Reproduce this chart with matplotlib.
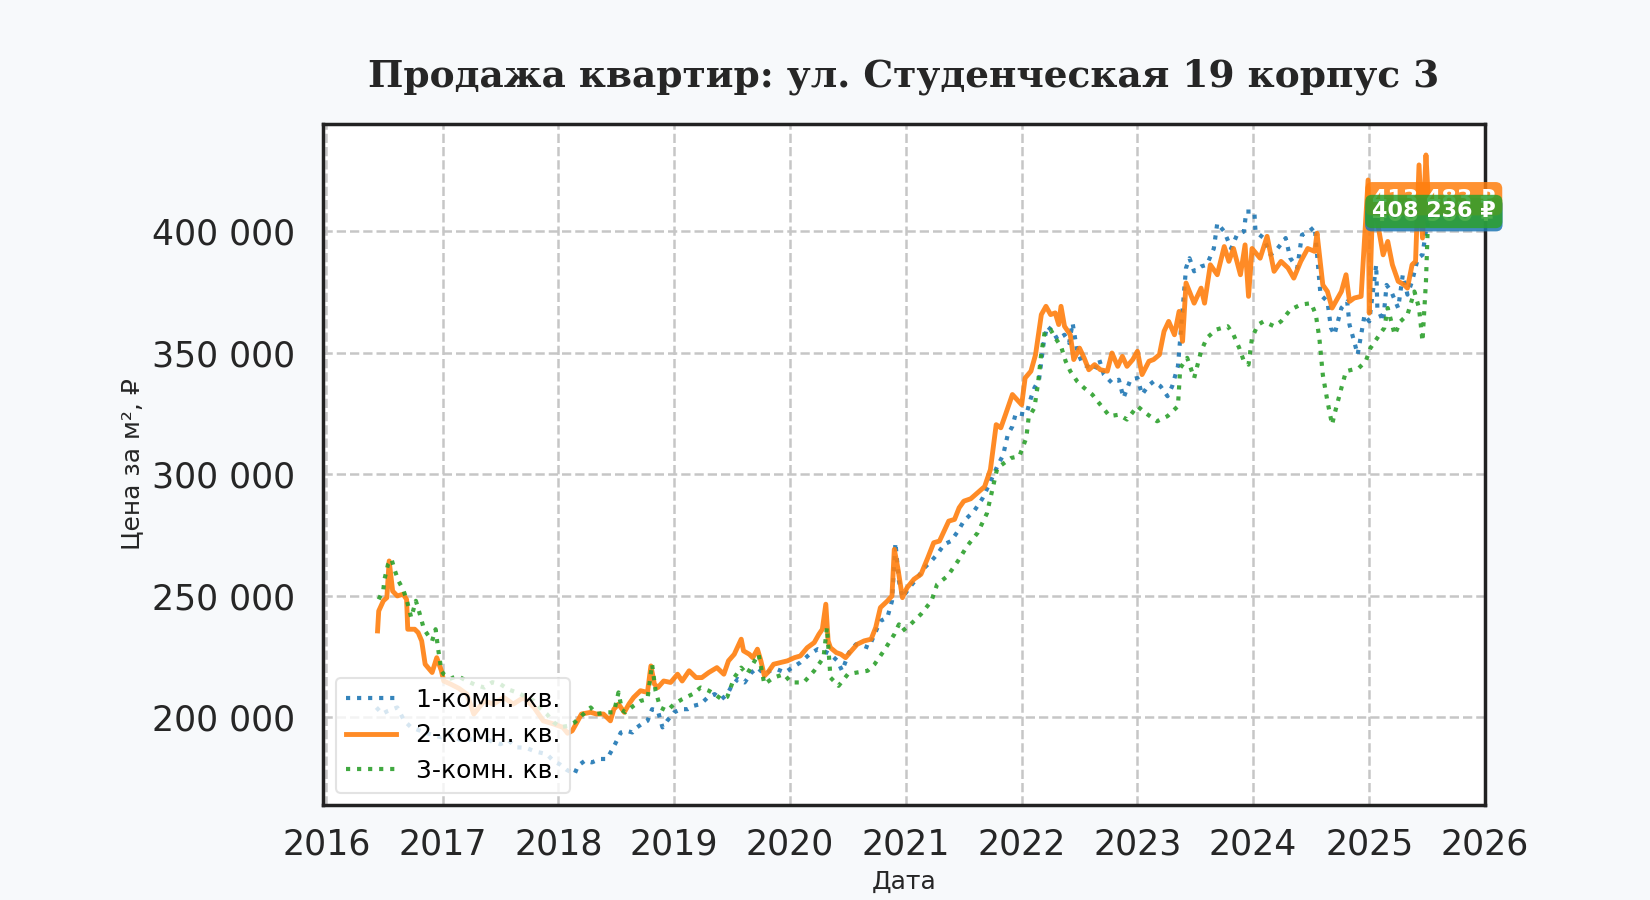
import matplotlib
matplotlib.use("Agg")
import matplotlib.pyplot as plt
import matplotlib.dates as mdates
from matplotlib.ticker import FuncFormatter
from datetime import datetime

# ---------------- data (decimal years, price per m2) ----------------
one_room_t = [2016.43, 2016.48, 2016.53, 2016.61, 2016.67, 2016.73, 2016.81, 2016.90, 2016.99, 2017.07,
              2017.14, 2017.21, 2017.30, 2017.36, 2017.43, 2017.50, 2017.57, 2017.64, 2017.72, 2017.80,
              2017.90, 2017.96, 2018.01, 2018.07, 2018.14, 2018.17, 2018.23, 2018.29, 2018.36, 2018.42,
              2018.46, 2018.49, 2018.54, 2018.59, 2018.64, 2018.68, 2018.72, 2018.77, 2018.81, 2018.86,
              2018.90, 2018.94, 2019.00, 2019.06, 2019.12, 2019.17, 2019.23, 2019.29, 2019.35, 2019.41,
              2019.46, 2019.49, 2019.55, 2019.61, 2019.67, 2019.72, 2019.78, 2019.83, 2019.89, 2019.96,
              2020.02, 2020.09, 2020.17, 2020.24, 2020.29, 2020.35, 2020.41, 2020.45, 2020.51, 2020.57,
              2020.64, 2020.68, 2020.73, 2020.78, 2020.84, 2020.88, 2020.91, 2020.94, 2020.97, 2021.03,
              2021.10, 2021.16, 2021.22, 2021.27, 2021.33, 2021.39, 2021.45, 2021.50, 2021.59, 2021.66,
              2021.72, 2021.79, 2021.84, 2021.88, 2021.92, 2021.95, 2022.04, 2022.08, 2022.11, 2022.15,
              2022.19, 2022.22, 2022.27, 2022.31, 2022.37, 2022.41, 2022.44, 2022.48, 2022.53, 2022.57,
              2022.63, 2022.67, 2022.71, 2022.78, 2022.84, 2022.88, 2022.94, 2023.00, 2023.04, 2023.09,
              2023.14, 2023.20, 2023.26, 2023.30, 2023.35, 2023.37, 2023.42, 2023.45, 2023.49, 2023.55,
              2023.60, 2023.66, 2023.69, 2023.75, 2023.81, 2023.86, 2023.92, 2023.94, 2024.01, 2024.02,
              2024.09, 2024.15, 2024.21, 2024.28, 2024.32, 2024.38, 2024.42, 2024.48, 2024.53, 2024.58,
              2024.64, 2024.67, 2024.70, 2024.73, 2024.76, 2024.81, 2024.83, 2024.87, 2024.90, 2024.93,
              2024.96, 2025.00, 2025.06, 2025.07, 2025.12, 2025.15, 2025.19, 2025.25, 2025.29, 2025.33,
              2025.37, 2025.42, 2025.46, 2025.51]
one_room = [204100, 201500, 202700, 204100, 198600, 195900, 194500, 193000, 191800, 193100,
            191000, 190400, 192500, 191800, 190000, 189000, 190500, 187700, 187500, 186000,
            184900, 182000, 180800, 178500, 176700, 180100, 182200, 181500, 182900, 182900,
            186300, 189000, 193800, 194500, 193800, 195900, 197300, 198600, 203400, 202700,
            195900, 198600, 202100, 203400, 203400, 204800, 205500, 208200, 209600, 207500,
            209600, 212300, 215800, 214400, 218500, 220500, 217800, 219200, 219800, 218500,
            220500, 222600, 226000, 228100, 227400, 226000, 223300, 219200, 226700, 230100,
            229400, 228700, 234200, 239700, 241100, 247900, 271900, 256200, 249300, 253400,
            257500, 261600, 264400, 267100, 271200, 272600, 276700, 280800, 285000, 290000,
            296000, 303400, 308000, 316400, 319800, 325300, 324600, 331500, 335600, 339000,
            354100, 361000, 358900, 355500, 357500, 354100, 362300, 350700, 345200, 344500,
            343100, 347300, 341100, 337700, 339000, 331500, 339000, 339700, 332900, 336300,
            338300, 336300, 332200, 336300, 344500, 356000, 385000, 389000, 383600, 385600,
            386300, 393000, 403400, 400000, 393000, 398600, 400000, 408200, 408200, 400000,
            397300, 390400, 393000, 397300, 389000, 385000, 398600, 400000, 402000, 374000,
            371200, 360300, 357500, 363000, 368500, 371200, 361600, 354800, 349300, 357500,
            365700, 363000, 386300, 368500, 363000, 378000, 375300, 368500, 382200, 374000,
            379500, 389000, 390400, 406900]

two_room_t = [2016.44, 2016.45, 2016.49, 2016.52, 2016.54, 2016.57, 2016.61, 2016.66, 2016.69, 2016.70,
              2016.76, 2016.79, 2016.82, 2016.85, 2016.91, 2016.95, 2016.99, 2017.01, 2017.07, 2017.14,
              2017.21, 2017.27, 2017.36, 2017.44, 2017.53, 2017.61, 2017.70, 2017.79, 2017.87, 2017.96,
              2018.04, 2018.08, 2018.12, 2018.16, 2018.20, 2018.28, 2018.33, 2018.39, 2018.45, 2018.48,
              2018.52, 2018.57, 2018.61, 2018.65, 2018.71, 2018.77, 2018.80, 2018.83, 2018.86, 2018.91,
              2018.97, 2019.03, 2019.07, 2019.13, 2019.19, 2019.24, 2019.30, 2019.37, 2019.43, 2019.47,
              2019.52, 2019.58, 2019.60, 2019.65, 2019.68, 2019.72, 2019.75, 2019.78, 2019.81, 2019.86,
              2019.92, 2019.98, 2020.04, 2020.09, 2020.15, 2020.21, 2020.25, 2020.28, 2020.31, 2020.33,
              2020.35, 2020.40, 2020.44, 2020.48, 2020.53, 2020.58, 2020.64, 2020.70, 2020.74, 2020.78,
              2020.84, 2020.88, 2020.90, 2020.93, 2020.97, 2021.01, 2021.07, 2021.13, 2021.19, 2021.24,
              2021.29, 2021.33, 2021.37, 2021.42, 2021.46, 2021.50, 2021.56, 2021.62, 2021.68, 2021.73,
              2021.78, 2021.82, 2021.86, 2021.92, 2021.96, 2022.00, 2022.03, 2022.08, 2022.12, 2022.17,
              2022.21, 2022.25, 2022.29, 2022.32, 2022.34, 2022.37, 2022.42, 2022.45, 2022.50, 2022.54,
              2022.58, 2022.63, 2022.68, 2022.74, 2022.78, 2022.83, 2022.87, 2022.91, 2022.96, 2023.00,
              2023.04, 2023.10, 2023.14, 2023.19, 2023.23, 2023.27, 2023.32, 2023.36, 2023.39, 2023.42,
              2023.49, 2023.55, 2023.58, 2023.63, 2023.69, 2023.75, 2023.79, 2023.83, 2023.89, 2023.93,
              2023.96, 2023.99, 2024.06, 2024.12, 2024.18, 2024.24, 2024.30, 2024.35, 2024.41, 2024.47,
              2024.53, 2024.55, 2024.60, 2024.64, 2024.68, 2024.76, 2024.80, 2024.83, 2024.87, 2024.93,
              2024.99, 2025.00, 2025.03, 2025.07, 2025.12, 2025.16, 2025.20, 2025.25, 2025.30, 2025.33,
              2025.37, 2025.40, 2025.43, 2025.46, 2025.49, 2025.51]
two_room = [235600, 243800, 248000, 249300, 264400, 252000, 250000, 250700, 248600, 236300,
            236300, 234900, 231500, 221900, 218500, 224600, 219200, 215000, 213700, 212000,
            209600, 201400, 206800, 205500, 208200, 205500, 208200, 204100, 198600, 197300,
            195900, 193500, 194500, 197900, 201400, 202100, 201400, 201400, 198600, 203400,
            205500, 202100, 205500, 208200, 211000, 210300, 221200, 213700, 212300, 215000,
            214400, 217800, 215000, 219200, 216400, 216400, 218500, 220500, 217800, 223300,
            226000, 232200, 227400, 226000, 224600, 228100, 223300, 217100, 218500, 221900,
            222600, 223300, 224600, 225300, 228700, 230800, 234200, 236300, 246600, 231500,
            228700, 226700, 226000, 224600, 227400, 230100, 231500, 232200, 237000, 245200,
            247900, 250000, 269200, 261600, 249300, 253400, 256900, 258900, 265800, 271900,
            272600, 276700, 280800, 281500, 286300, 289000, 290000, 292500, 295000, 302000,
            320500, 319200, 324600, 332900, 330800, 328700, 339700, 342500, 349300, 365800,
            369200, 365800, 366500, 361700, 369200, 361000, 357500, 347300, 352000, 347900,
            343100, 345200, 343100, 342500, 350000, 344500, 348600, 344500, 347300, 350700,
            341100, 346600, 347300, 349300, 358900, 363000, 357500, 367100, 354800, 378800,
            370500, 376700, 370500, 386300, 382200, 393800, 387700, 393000, 382200, 394500,
            373300, 393000, 389000, 398000, 383600, 387700, 385000, 380800, 387700, 393000,
            391800, 399300, 378000, 375300, 368500, 375300, 382200, 371200, 372600, 373300,
            421200, 366400, 412300, 404100, 390400, 395900, 386300, 379500, 378100, 376700,
            386300, 387700, 427400, 397300, 431500, 413483]

three_room_t = [2016.45, 2016.49, 2016.50, 2016.53, 2016.56, 2016.59, 2016.62, 2016.66, 2016.69, 2016.73,
                2016.77, 2016.80, 2016.84, 2016.87, 2016.91, 2016.94, 2016.96, 2016.99, 2017.01, 2017.07,
                2017.13, 2017.21, 2017.28, 2017.36, 2017.43, 2017.50, 2017.57, 2017.64, 2017.72, 2017.79,
                2017.85, 2017.90, 2017.96, 2018.02, 2018.08, 2018.14, 2018.20, 2018.28, 2018.33, 2018.42,
                2018.48, 2018.52, 2018.55, 2018.58, 2018.65, 2018.71, 2018.77, 2018.81, 2018.84, 2018.88,
                2018.94, 2019.00, 2019.07, 2019.16, 2019.23, 2019.30, 2019.35, 2019.41, 2019.46, 2019.52,
                2019.58, 2019.63, 2019.73, 2019.78, 2019.86, 2019.95, 2020.01, 2020.12, 2020.21, 2020.29,
                2020.32, 2020.35, 2020.42, 2020.50, 2020.58, 2020.67, 2020.73, 2020.81, 2020.90, 2020.94,
                2020.97, 2021.04, 2021.13, 2021.22, 2021.27, 2021.36, 2021.45, 2021.53, 2021.62, 2021.70,
                2021.79, 2021.91, 2021.98, 2022.04, 2022.06, 2022.11, 2022.14, 2022.17, 2022.20, 2022.25,
                2022.29, 2022.34, 2022.38, 2022.42, 2022.48, 2022.54, 2022.61, 2022.68, 2022.76, 2022.84,
                2022.91, 2023.00, 2023.07, 2023.17, 2023.26, 2023.35, 2023.37, 2023.43, 2023.49, 2023.55,
                2023.60, 2023.68, 2023.78, 2023.83, 2023.88, 2023.92, 2023.96, 2023.99, 2024.04, 2024.09,
                2024.18, 2024.24, 2024.32, 2024.41, 2024.50, 2024.54, 2024.57, 2024.60, 2024.64, 2024.68,
                2024.70, 2024.76, 2024.80, 2024.86, 2024.91, 2024.97, 2025.01, 2025.07, 2025.13, 2025.16,
                2025.22, 2025.27, 2025.33, 2025.39, 2025.43, 2025.46, 2025.49, 2025.51]
three_room = [248600, 252700, 256900, 263000, 265100, 260300, 256200, 252700, 248600, 241100,
              248000, 243200, 236300, 234200, 231500, 236300, 228800, 219200, 217800, 216000,
              217100, 215000, 213500, 212300, 214500, 213700, 211500, 210300, 208500, 206800,
              203500, 201400, 198000, 196000, 196500, 197900, 200700, 204100, 201400, 202100,
              202100, 210300, 203000, 202100, 204800, 206800, 207500, 221900, 211000, 204100,
              202700, 205500, 207500, 209600, 212300, 211000, 209600, 207500, 208500, 216400,
              220500, 217800, 226000, 213700, 216400, 217800, 214400, 214400, 219200, 224600,
              237000, 216400, 213000, 217800, 218500, 219200, 221900, 227400, 234200, 238300,
              235600, 238300, 242500, 247900, 254800, 258200, 264400, 270600, 276000, 284000,
              302700, 306800, 307500, 315000, 323300, 327400, 337000, 350000, 358900, 359600,
              356200, 352700, 346600, 342500, 338300, 335600, 332900, 328700, 324000, 324600,
              322600, 328100, 325300, 321900, 324000, 328100, 343800, 348000, 339700, 350700,
              356200, 359600, 361000, 357500, 352000, 346600, 345200, 356200, 361600, 363000,
              361000, 363000, 367800, 369900, 370500, 365700, 356200, 341000, 330100, 320500,
              324700, 335600, 342500, 343200, 343800, 346600, 352000, 356200, 360300, 368500,
              357500, 363000, 365700, 375300, 368500, 354800, 379500, 408236]

labels = ["1-комн. кв.", "2-комн. кв.", "3-комн. кв."]
colors = ["#1f77b4", "#ff7f0e", "#2ca02c"]
title = "Продажа квартир: ул. Студенческая 19 корпус 3"


def to_dates(years):
    out = []
    for y in years:
        yi = int(y)
        start, end = datetime(yi, 1, 1), datetime(yi + 1, 1, 1)
        out.append(start + (end - start) * (y - yi))
    return out


fig = plt.figure(figsize=(16.5, 9), dpi=100, facecolor="#f7f9fb")
ax = fig.add_axes([323 / 1650, 1 - 805 / 900, (1485 - 323) / 1650, (805 - 124) / 900])
ax.set_facecolor("white")
ax.grid(True, linestyle="--", color="#c6c6c6", linewidth=1.8)
ax.set_axisbelow(True)

series = [(one_room_t, one_room, ":", 3.0), (two_room_t, two_room, "-", 3.5),
          (three_room_t, three_room, ":", 3.0)]
for (t, v, ls, lw), lab, col in zip(series, labels, colors):
    ax.plot(to_dates(t), v, linestyle=ls, linewidth=lw, color=col, alpha=0.9, label=lab)

for (t, v, ls, lw), col in zip(series, colors):
    txt = f"{v[-1]:,.0f} ₽".replace(",", " ")
    ax.annotate(txt, xy=(to_dates([t[-1]])[0], v[-1]), xytext=(4, 0), textcoords="offset points",
                ha="center", va="center", color="white", fontweight="bold", fontsize=16, zorder=5,
                bbox=dict(boxstyle="round,pad=0.3", fc=col, ec="none", alpha=0.85))

ax.set_xlim(datetime(2015, 12, 21), datetime(2026, 1, 1))
ax.xaxis.set_major_locator(mdates.YearLocator())
ax.xaxis.set_major_formatter(mdates.DateFormatter("%Y"))
ax.yaxis.set_major_formatter(FuncFormatter(lambda x, p: f"{x:,.0f}".replace(",", " ")))

ax.tick_params(axis="both", length=0, labelsize=25, colors="#262626")
ax.tick_params(axis="x", pad=16)
ax.tick_params(axis="y", pad=20)
for s in ax.spines.values():
    s.set_color("#222222")
    s.set_linewidth(2.5)

ax.set_xlabel("Дата", fontsize=18, color="#262626", labelpad=6)
ax.set_ylabel("Цена за м², ₽", fontsize=18, color="#262626", labelpad=6)
ax.set_title(title, fontsize=27, fontweight="bold", family="DejaVu Serif", color="#262626", pad=27)

leg = ax.legend(loc="lower left", fontsize=18, frameon=True, framealpha=0.8,
                edgecolor="#dddddd", fancybox=True, labelspacing=0.45)
leg.get_frame().set_linewidth(1.5)

fig.savefig("out.png", dpi=100, facecolor=fig.get_facecolor())
